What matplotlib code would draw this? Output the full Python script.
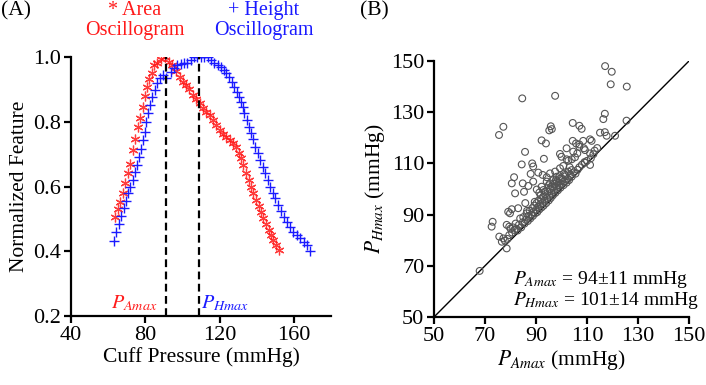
import matplotlib
matplotlib.use("Agg")
import matplotlib.pyplot as plt
import numpy as np

plt.rcParams['font.family'] = ['Liberation Serif', 'DejaVu Serif']
plt.rcParams['mathtext.fontset'] = 'stix'

# ---------------- Panel A data ----------------
area_p = [63.8, 65.3, 66.5, 67.8, 69.2, 70.7, 71.9, 73.2, 74.7, 75.9, 77.2, 78.6, 79.7,
          81.1, 82.2, 83.7, 84.9, 86.4, 88.2, 90.5, 92.7, 94.5, 96.7, 98.5, 100.3, 101.7,
          103.5, 105.7, 107.5, 109.3, 111.1, 112.9, 114.7, 116.5, 118.3, 120.1, 121.9,
          123.7, 125.5, 127.0, 128.8, 130.2, 131.5, 132.8, 134.2, 135.7, 136.9, 138.2,
          139.6, 141.1, 142.3, 143.6, 145.0, 146.5, 147.7, 149.0, 150.4, 151.9]
area_v = [0.507, 0.530, 0.553, 0.579, 0.610, 0.641, 0.669, 0.713, 0.746, 0.783, 0.813,
          0.847, 0.880, 0.908, 0.931, 0.952, 0.975, 0.983, 0.993, 1.000, 0.986, 0.975,
          0.958, 0.939, 0.924, 0.914, 0.900, 0.883, 0.869, 0.857, 0.844, 0.831, 0.821,
          0.805, 0.790, 0.774, 0.762, 0.752, 0.744, 0.733, 0.723, 0.702, 0.687, 0.666,
          0.641, 0.620, 0.599, 0.579, 0.558, 0.540, 0.522, 0.502, 0.484, 0.466, 0.450,
          0.435, 0.419, 0.403]

height_p = [62.9, 64.4, 65.6, 67.1, 68.3, 69.6, 70.7, 71.9, 73.2, 74.3, 75.6, 76.5, 77.9,
            78.6, 79.7, 80.6, 81.5, 82.8, 83.7, 85.1, 86.4, 87.7, 89.5, 91.4, 93.6, 95.4,
            97.2, 99.0, 100.8, 102.6, 104.4, 106.2, 108.0, 109.8, 111.7, 113.5, 115.3,
            117.1, 118.9, 120.7, 122.5, 123.7, 125.2, 126.6, 127.9, 129.2, 130.2, 131.5,
            132.4, 133.3, 134.6, 135.7, 136.9, 138.2, 139.3, 140.5, 141.8, 143.2, 144.7,
            145.9, 147.2, 148.6, 150.1, 151.4, 153.2, 154.6, 156.2, 158.0, 159.8, 161.6,
            163.4, 165.2, 167.1, 168.9]
height_v = [0.433, 0.461, 0.484, 0.509, 0.533, 0.556, 0.579, 0.600, 0.620, 0.646, 0.666,
            0.690, 0.715, 0.744, 0.769, 0.800, 0.826, 0.852, 0.877, 0.898, 0.919, 0.934,
            0.944, 0.934, 0.955, 0.965, 0.975, 0.978, 0.980, 0.982, 0.991, 0.999, 1.000,
            1.000, 1.000, 0.999, 0.991, 0.982, 0.975, 0.970, 0.960, 0.950, 0.937, 0.924,
            0.908, 0.893, 0.877, 0.862, 0.847, 0.826, 0.805, 0.785, 0.764, 0.746, 0.723,
            0.702, 0.682, 0.661, 0.641, 0.620, 0.600, 0.581, 0.563, 0.543, 0.525, 0.507,
            0.491, 0.476, 0.461, 0.450, 0.440, 0.430, 0.418, 0.402]

p_amax_example = 91.0
p_hmax_example = 109.0

# ---------------- Panel B data ----------------
p_amax = [117.1, 119.7, 119.3, 125.6, 84.6, 97.5, 77.2, 75.5, 95.8, 96.2, 95.2, 104.4,
          107.0, 107.9, 117.0, 116.4, 125.5, 115.1, 117.0, 117.7, 121.0, 92.2, 93.9,
          104.4, 105.7, 107.0, 108.5, 111.2, 111.8, 85.7, 93.1, 99.4, 102.0, 107.0, 108.8,
          109.2, 111.2, 112.5, 104.6, 106.2, 109.2, 111.2, 100.0, 102.0, 84.4, 88.5, 88.9,
          81.4, 80.5, 84.8, 87.9, 88.9, 90.9, 92.6, 94.2, 95.5, 97.5, 99.4, 100.7, 102.7,
          104.0, 105.3, 81.8, 85.3, 87.0, 90.3, 91.3, 92.2, 92.9, 94.2, 95.5, 96.8, 98.1,
          100.1, 101.4, 102.7, 104.0,
          67.9, 72.6, 73.0, 75.6, 76.6, 77.2, 78.5, 78.5, 79.5, 77.8, 78.8, 79.1, 79.8,
          80.5, 79.5, 80.0, 80.6, 81.0, 81.5, 82.0, 82.3, 82.8, 83.3, 83.8, 84.2, 84.8,
          85.0, 85.5, 86.0, 86.3, 86.8, 87.0, 87.5, 87.8, 88.2, 88.5, 88.8, 89.0, 89.3,
          89.7, 90.0, 90.2, 90.5, 90.8, 91.0, 91.3, 91.6, 92.0, 92.2, 92.5, 92.8, 93.0,
          93.3, 93.6, 94.0, 94.3, 94.6, 95.0, 95.2, 95.5, 95.8, 96.0, 96.3, 96.6, 97.0,
          97.2, 97.6, 98.0, 98.2, 98.6, 99.0, 99.3, 99.6, 100.0, 100.3, 100.8, 101.2,
          101.6, 102.0, 102.5, 103.0, 103.5, 104.0, 104.8, 105.5, 106.3, 107.0, 108.0,
          109.0, 110.0, 111.5, 113.0, 114.0, 86.5, 89.5, 91.8, 93.5, 95.0, 97.8, 99.2,
          101.0, 103.2, 96.5, 98.8, 83.0, 85.8]
p_hmax = [148.0, 145.8, 140.9, 140.0, 135.4, 136.4, 124.3, 121.1, 124.5, 123.4, 122.9,
          125.8, 124.7, 123.5, 129.4, 127.3, 126.7, 122.0, 122.2, 120.8, 120.8, 119.0,
          117.8, 118.8, 117.8, 117.4, 118.8, 119.4, 118.8, 114.5, 111.8, 113.7, 115.9,
          116.5, 115.9, 115.2, 113.9, 113.6, 114.6, 113.9, 110.3, 109.4, 112.6, 111.6,
          109.6, 110.0, 108.8, 104.6, 102.2, 102.2, 105.9, 102.9, 106.4, 105.5, 104.6,
          106.1, 106.8, 108.1, 109.0, 111.1, 111.6, 112.4, 98.3, 98.9, 101.2, 99.8, 98.6,
          100.9, 99.6, 102.9, 102.2, 103.5, 104.8, 104.2, 105.5, 106.8, 107.4,
          68.0, 85.3, 87.2, 81.4, 79.4, 80.7, 76.8, 86.0, 85.3, 79.8, 80.5, 91.1, 90.5,
          92.1, 82.0, 84.5, 83.0, 85.0, 84.0, 86.5, 84.5, 83.8, 86.0, 88.5, 85.0, 87.0,
          89.0, 86.5, 88.0, 90.5, 87.5, 89.5, 91.5, 88.5, 90.0, 92.5, 89.5, 91.0, 93.5,
          90.5, 92.0, 94.5, 91.0, 93.0, 95.5, 92.0, 94.0, 96.0, 92.8, 94.5, 97.0, 93.5,
          95.5, 98.0, 94.5, 96.5, 99.0, 95.5, 97.5, 100.0, 96.5, 98.5, 101.0, 97.5, 99.5,
          102.0, 98.5, 100.5, 103.0, 99.5, 101.5, 104.0, 100.5, 102.0, 103.5, 101.5, 103.0,
          105.0, 102.5, 104.0, 103.5, 105.5, 104.8, 106.5, 106.0, 107.5, 108.5, 109.5,
          110.5, 111.0, 112.0, 115.0, 116.0, 91.5, 95.0, 97.5, 99.0, 101.5, 103.5, 105.0,
          106.0, 108.5, 100.5, 102.5, 92.5, 94.5]

stat_lines = [r"$P_{Amax}$ = 94±11 mmHg", r"$P_{Hmax}$ = 101±14 mmHg"]

RED = '#ff1a1a'
BLUE = '#1a1aff'
TFS = 16      # tick labels
LFS = 15.5    # axis labels
AFS = 14.5    # annotations

fig = plt.figure(figsize=(7.06, 3.85), dpi=100)
axA = fig.add_axes([71/706, 69/385, 260/706, 259/385])
axB = fig.add_axes([434/706, 68/385, 255/706, 256/385])

for ax in (axA, axB):
    for s in ('top', 'right'):
        ax.spines[s].set_visible(False)
    for s in ('left', 'bottom'):
        ax.spines[s].set_linewidth(1.6)
    ax.tick_params(direction='out', length=5, width=1.6, labelsize=TFS, pad=2)

# Panel A
axA.plot(area_p, area_v, linestyle='none', marker=(6, 2, 0), markersize=7,
         markeredgecolor=RED, markeredgewidth=0.9, color=RED, alpha=0.85)
axA.plot(height_p, height_v, linestyle='none', marker='+', markersize=7,
         markeredgecolor=BLUE, markeredgewidth=1.0, color=BLUE)
axA.plot([p_amax_example, p_amax_example], [0.2, 1.0], 'k--', lw=1.6, dashes=(3.5, 2))
axA.plot([p_hmax_example, p_hmax_example], [0.2, 1.0], 'k--', lw=1.6, dashes=(3.5, 2))
axA.set_xlim(40, 180)
axA.set_ylim(0.2, 1.0)
axA.set_xticks([40, 80, 120, 160])
axA.set_yticks([0.2, 0.4, 0.6, 0.8, 1.0])
axA.set_yticklabels(['0.2', '0.4', '0.6', '0.8', '1.0'])
axA.set_xlabel('Cuff Pressure (mmHg)', fontsize=LFS, labelpad=2)
axA.set_ylabel('Normalized Feature', fontsize=LFS, labelpad=3)
axA.text(74, 0.24, r"$P_{Amax}$", color=RED, fontsize=AFS, ha='center', va='center')
axA.text(122.7, 0.24, r"$P_{Hmax}$", color=BLUE, fontsize=AFS, ha='center', va='center')
fig.text(135/706, 1 - 1/385, "* Area\nOscillogram", color=RED, fontsize=AFS,
         ha='center', va='top', linespacing=1.05)
fig.text(264/706, 1 - 1/385, "+ Height\nOscillogram", color=BLUE, fontsize=AFS,
         ha='center', va='top', linespacing=1.05)
fig.text(1/706, 1 - 1/385, "(A)", fontsize=LFS, ha='left', va='top')

# Panel B
axB.plot([50, 150], [50, 150], color='black', lw=1.0)
axB.scatter(p_amax, p_hmax, s=24, facecolors='none', edgecolors='#555555', linewidths=0.8,
            zorder=3, clip_on=False)
axB.set_xlim(50, 150)
axB.set_ylim(50, 150)
axB.set_xticks([50, 70, 90, 110, 130, 150])
axB.set_yticks([50, 70, 90, 110, 130, 150])
axB.set_xlabel(r"$P_{Amax}$ (mmHg)", fontsize=LFS, labelpad=2)
axB.set_ylabel(r"$P_{Hmax}$ (mmHg)", fontsize=LFS, labelpad=3)
axB.text(81, 64.8, stat_lines[0], fontsize=AFS - 0.5, ha='left', va='center')
axB.text(81, 56.3, stat_lines[1], fontsize=AFS - 0.5, ha='left', va='center')
fig.text(360/706, 1 - 1/385, "(B)", fontsize=LFS, ha='left', va='top')

fig.savefig('out.png', dpi=100)
